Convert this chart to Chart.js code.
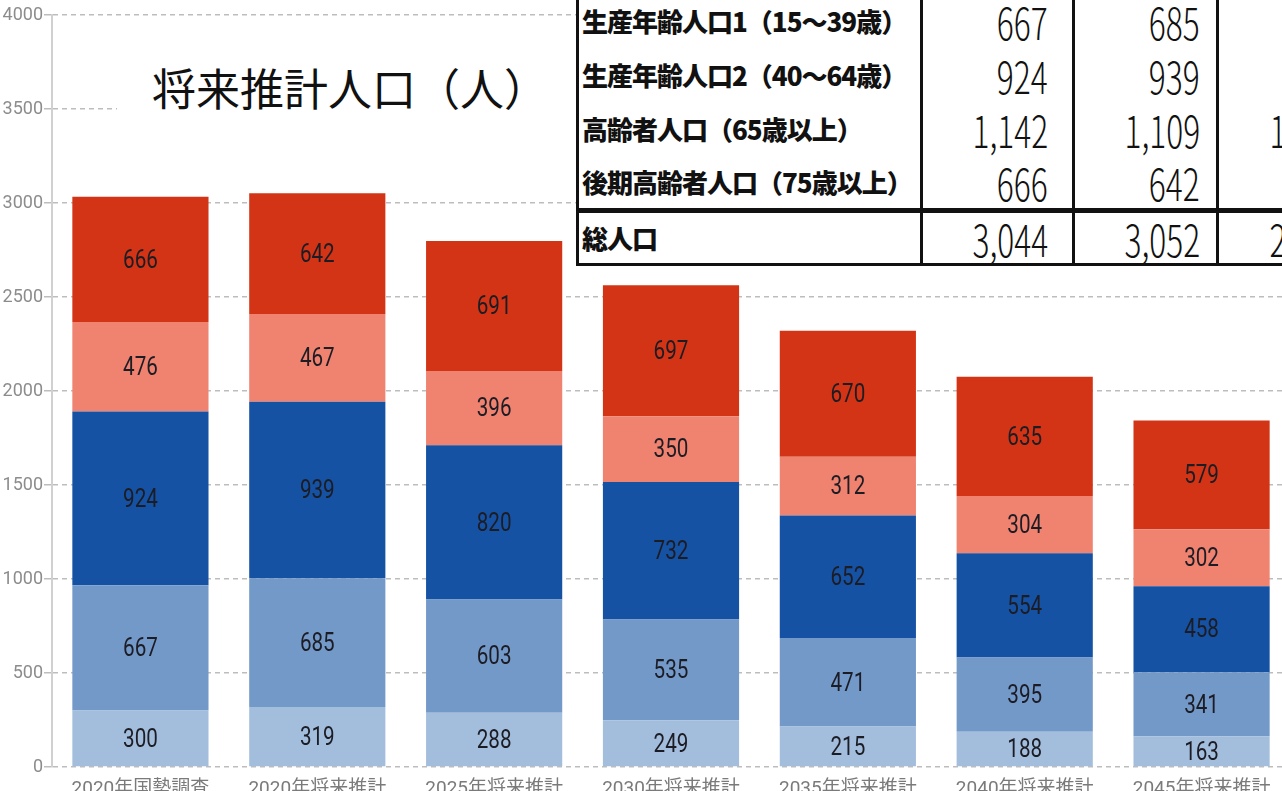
<!DOCTYPE html>
<html lang="ja">
<head>
<meta charset="utf-8">
<title>将来推計人口</title>
<script src="https://cdn.jsdelivr.net/npm/chart.js@4/dist/chart.umd.min.js"></script>
<style>
  html, body {
    margin: 0;
    padding: 0;
    background: #fff;
    overflow: hidden;
    width: 1282px;
    height: 791px;
  }
  #wrap {
    position: absolute;
    left: 0;
    top: 0;
    width: 1292px;
    height: 797px;
  }
  #title {
    position: absolute;
    left: 117px;
    top: 35px;
    width: 460px;
    height: 150px;
    background: #fff;
    font-family: "Noto Sans CJK JP", sans-serif;
    font-size: 44px;
    color: #111;
    line-height: 104px;
    padding-left: 35px;
    box-sizing: border-box;
    white-space: nowrap;
  }
  #tbl {
    position: absolute;
    left: 576px;
    top: -6px;
    width: 785px;
    table-layout: fixed;
    border-collapse: collapse;
    background: #fff;
    font-family: "Noto Sans CJK JP", sans-serif;
    color: #111;
  }
  #tbl tr {
    height: 54px;
  }
  #tbl td {
    padding: 0;
    line-height: 1;
    border-left: 3px solid #111;
    border-right: 3px solid #111;
    white-space: nowrap;
    overflow: hidden;
  }
  #tbl td.lab {
    font-weight: 900;
    font-size: 26px;
    letter-spacing: -1px;
    padding-left: 3px;
  }
  #tbl td.num {
    text-align: right;
    font-size: 44px;
    font-weight: 300;
  }
  #tbl td.num span {
    display: inline-block;
    transform: scaleX(0.72);
    transform-origin: right center;
    line-height: 1;
  }
  #tbl tr.total td {
    border-top: 5px solid #111;
    border-bottom: 3px solid #111;
  }
</style>
</head>
<body>
<div id="wrap"><canvas id="popChart"></canvas></div>
<div id="title">将来推計人口（人）</div>
<table id="tbl">
  <colgroup>
    <col style="width: 344px">
    <col style="width: 152px">
    <col style="width: 144px">
    <col style="width: 145px">
  </colgroup>
</table>
<script>
// categories and series (bottom to top)
const categories = [
  "2020年国勢調査",
  "2020年将来推計",
  "2025年将来推計",
  "2030年将来推計",
  "2035年将来推計",
  "2040年将来推計",
  "2045年将来推計",
];
const youngPop = [300, 319, 288, 249, 215, 188, 163];
const workPop1 = [667, 685, 603, 535, 471, 395, 341];
const workPop2 = [924, 939, 820, 732, 652, 554, 458];
const earlyElderly = [476, 467, 396, 350, 312, 304, 302];
const lateElderly = [666, 642, 691, 697, 670, 635, 579];
const totalPop = [3044, 3052, 2798, 2563, 2320, 2076, 1843];
const yTicks = [0, 500, 1000, 1500, 2000, 2500, 3000, 3500, 4000];

const tableLabels = [
  "生産年齢人口1（15～39歳）",
  "生産年齢人口2（40～64歳）",
  "高齢者人口（65歳以上）",
  "後期高齢者人口（75歳以上）",
  "総人口",
];

// table overlay
function fmt(n) {
  return n.toLocaleString("en-US");
}
const tableRows = [
  workPop1,
  workPop2,
  earlyElderly.map((v, i) => v + lateElderly[i]),
  lateElderly,
  totalPop,
];
const colPad = [24, 16, 16];
const tbl = document.getElementById("tbl");
tableRows.forEach(function (row, r) {
  const tr = document.createElement("tr");
  if (r === tableRows.length - 1) tr.className = "total";
  const lab = document.createElement("td");
  lab.className = "lab";
  lab.textContent = tableLabels[r];
  tr.appendChild(lab);
  for (let c = 0; c < 3; c++) {
    const td = document.createElement("td");
    td.className = "num";
    td.style.paddingRight = colPad[c] + "px";
    const span = document.createElement("span");
    span.textContent = fmt(row[c]);
    td.appendChild(span);
    tr.appendChild(td);
  }
  tbl.appendChild(tr);
});

// labels inside each segment (slightly condensed)
const segmentLabels = {
  id: "segmentLabels",
  afterDatasetsDraw(chart) {
    const ctx = chart.ctx;
    chart.data.datasets.forEach(function (ds, i) {
      const meta = chart.getDatasetMeta(i);
      meta.data.forEach(function (bar, j) {
        const y = (bar.y + bar.base) / 2;
        ctx.save();
        ctx.translate(bar.x, y + 2);
        ctx.scale(0.86, 1.05);
        ctx.font = "24px Roboto, sans-serif";
        ctx.fillStyle = "#1c1c24";
        ctx.textAlign = "center";
        ctx.textBaseline = "middle";
        ctx.fillText(String(ds.data[j]), 0, 0);
        ctx.restore();
      });
    });
  },
};

const ctx = document.getElementById("popChart").getContext("2d");
new Chart(ctx, {
  type: "bar",
  data: {
    labels: categories,
    datasets: [
      { label: "年少人口（0～14歳）", data: youngPop, backgroundColor: "#A3BEDD" },
      { label: "生産年齢人口1（15～39歳）", data: workPop1, backgroundColor: "#7399C9" },
      { label: "生産年齢人口2（40～64歳）", data: workPop2, backgroundColor: "#1652A3" },
      { label: "前期高齢者人口（65～74歳）", data: earlyElderly, backgroundColor: "#F08270" },
      { label: "後期高齢者人口（75歳以上）", data: lateElderly, backgroundColor: "#D43416" },
    ],
  },
  options: {
    responsive: true,
    maintainAspectRatio: false,
    animation: false,
    layout: { padding: { top: 15, left: 0, right: 2, bottom: 0 } },
    datasets: {
      bar: { barPercentage: 0.77, categoryPercentage: 1.0 },
    },
    plugins: {
      legend: { display: false },
      title: { display: false },
      tooltip: { enabled: false },
    },
    scales: {
      x: {
        stacked: true,
        grid: { display: false },
        border: { display: false },
        ticks: {
          color: "#7a7a7a",
          padding: 3,
          maxRotation: 0,
          font: { family: "Roboto, 'Noto Sans CJK JP', sans-serif", size: 19 },
        },
        afterFit(scale) {
          scale.height = 30;
        },
      },
      y: {
        stacked: true,
        min: 0,
        max: 4000,
        afterBuildTicks(scale) {
          scale.ticks = yTicks.map((v) => ({ value: v }));
        },
        grid: {
          color: "#bdbdbd",
          lineWidth: 1.5,
          tickLength: 8,
          tickColor: "#bdbdbd",
          tickBorderDash: [],
        },
        border: { display: true, color: "#d0d0d0", width: 2, dash: [5, 4] },
        ticks: {
          color: "#8c8c8c",
          padding: 1,
          font: { family: "Roboto, sans-serif", size: 18 },
          callback: (v) => String(v),
        },
        afterFit(scale) {
          scale.width = 52;
        },
      },
    },
  },
  plugins: [segmentLabels],
});
</script>
</body>
</html>
